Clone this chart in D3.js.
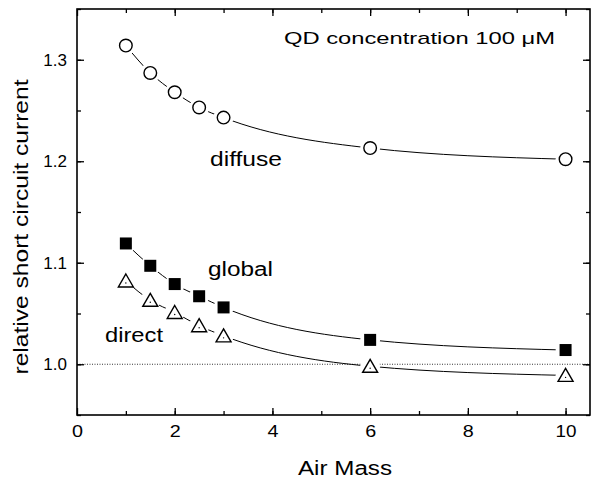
<!DOCTYPE html>
<html>
<head>
<meta charset="utf-8">
<script src="https://cdn.jsdelivr.net/npm/d3@7"></script>
<style>
  body { margin: 0; background: #fff; }
  text { font-family: "Liberation Sans", Arial, sans-serif; fill: #000; }
</style>
</head>
<body>
<div id="chart"></div>
<script>
// Air mass values and relative short circuit current per illumination type
const airMass = [1, 1.5, 2, 2.5, 3, 6, 10];
const diffuse = [1.314, 1.287, 1.268, 1.253, 1.243, 1.213, 1.202];
const global = [1.119, 1.097, 1.079, 1.067, 1.056, 1.024, 1.014];
const direct = [1.082, 1.063, 1.051, 1.038, 1.028, 0.998, 0.989];
const xTicks = [0, 2, 4, 6, 8, 10];
const yTicks = [1.0, 1.1, 1.2, 1.3];

const width = 611, height = 481;
const margin = {top: 9, right: 21, bottom: 66, left: 77};
const innerWidth = width - margin.left - margin.right;
const innerHeight = height - margin.top - margin.bottom;

const svg = d3.select("#chart").append("svg")
    .attr("width", width)
    .attr("height", height);

const g = svg.append("g")
    .attr("transform", `translate(${margin.left},${margin.top})`);

const x = d3.scaleLinear().domain([0, 10.5]).range([0, innerWidth]);
const y = d3.scaleLinear().domain([0.95, 1.35]).range([innerHeight, 0]);

// reference line at 1.0
g.append("line")
    .attr("x1", 0).attr("x2", innerWidth)
    .attr("y1", y(1)).attr("y2", y(1))
    .attr("stroke", "#000")
    .attr("stroke-width", 0.8)
    .attr("stroke-dasharray", "1,1.5");

// axes, ticks pointing inward
const minorX = d3.range(1, 11, 1);
const minorY = d3.range(0.95, 1.351, 0.05);

function drawAxis(axis, cls, transform) {
    g.append("g").attr("class", cls).attr("transform", transform).call(axis);
}
drawAxis(d3.axisBottom(x).tickValues(minorX).tickSize(-4).tickFormat(""), "minor", `translate(0,${innerHeight})`);
drawAxis(d3.axisBottom(x).tickValues(xTicks).tickSize(-7).tickPadding(10).tickFormat(d3.format("d")), "x", `translate(0,${innerHeight})`);
drawAxis(d3.axisTop(x).tickValues(minorX).tickSize(-4).tickFormat(""), "minor", "translate(0,0)");
drawAxis(d3.axisTop(x).tickValues(xTicks).tickSize(-7).tickFormat(""), "minor", "translate(0,0)");
drawAxis(d3.axisLeft(y).tickValues(minorY).tickSize(-4).tickFormat(""), "minor", "translate(0,0)");
drawAxis(d3.axisLeft(y).tickValues(yTicks).tickSize(-7).tickPadding(10).tickFormat(d3.format(".1f")), "y", "translate(0,0)");
drawAxis(d3.axisRight(y).tickValues(minorY).tickSize(-4).tickFormat(""), "minor", `translate(${innerWidth},0)`);
drawAxis(d3.axisRight(y).tickValues(yTicks).tickSize(-7).tickFormat(""), "minor", `translate(${innerWidth},0)`);

g.selectAll(".domain").remove();
g.selectAll(".minor text").remove();
g.selectAll(".tick line").attr("stroke", "#000").attr("stroke-width", 1.3);
g.selectAll(".x .tick text, .y .tick text")
    .attr("font-size", "17px")
    .attr("font-family", "'Liberation Sans', Arial, sans-serif");
g.selectAll(".x .tick text")
    .attr("textLength", d => d >= 10 ? 21 : 11)
    .attr("lengthAdjust", "spacingAndGlyphs");

g.append("rect")
    .attr("width", innerWidth).attr("height", innerHeight)
    .attr("fill", "none").attr("stroke", "#000").attr("stroke-width", 1.6);

// fitted curves through the points
const line = d3.line()
    .x(d => x(d[0]))
    .y(d => y(d[1]))
    .curve(d3.curveMonotoneX);

const series = [
    {name: "diffuse", values: diffuse, shape: "circle"},
    {name: "global", values: global, shape: "square"},
    {name: "direct", values: direct, shape: "triangle"}
];

series.forEach(s => {
    const pts = airMass.map((a, i) => [a, s.values[i]]);
    g.append("path")
        .datum(pts)
        .attr("fill", "none")
        .attr("stroke", "#000")
        .attr("stroke-width", 1)
        .attr("d", line);
});

// markers with white halo so the line stops short of them
series.forEach(s => {
    const pts = airMass.map((a, i) => [a, s.values[i]]);
    const mg = g.append("g").selectAll("g")
        .data(pts).enter().append("g")
        .attr("transform", d => `translate(${x(d[0])},${y(d[1])})`);
    mg.append("circle").attr("r", 10).attr("fill", "#fff");
    if (s.shape === "circle") {
        mg.append("circle").attr("r", 6.3)
            .attr("fill", "#fff").attr("stroke", "#000").attr("stroke-width", 1.4);
    } else if (s.shape === "square") {
        mg.append("rect").attr("x", -6).attr("y", -6)
            .attr("width", 12).attr("height", 12)
            .attr("fill", "#000");
    } else {
        mg.append("path").attr("d", "M0,-7 L7.5,6 L-7.5,6 Z")
            .attr("fill", "#fff").attr("stroke", "#000").attr("stroke-width", 1.4);
        mg.append("circle").attr("r", 0.7).attr("cy", 2).attr("fill", "#000");
    }
});

// annotations (the source font is wide, so stretch with textLength)
const ann = [
    {t: "diffuse", x: 210, y: 166, w: 72},
    {t: "global", x: 208, y: 276, w: 65},
    {t: "direct", x: 105, y: 342, w: 58}
];
svg.selectAll(".ann").data(ann).enter().append("text")
    .attr("class", "ann")
    .attr("x", d => d.x).attr("y", d => d.y)
    .attr("font-size", "20px")
    .attr("textLength", d => d.w)
    .attr("lengthAdjust", "spacingAndGlyphs")
    .text(d => d.t);

const title = svg.append("text")
    .attr("x", 284).attr("y", 44)
    .attr("font-size", "17px")
    .attr("textLength", 271)
    .attr("lengthAdjust", "spacingAndGlyphs")
    .text("QD concentration 100 μM");

svg.append("text")
    .attr("x", 298).attr("y", 475)
    .attr("font-size", "20px")
    .attr("textLength", 94)
    .attr("lengthAdjust", "spacingAndGlyphs")
    .text("Air Mass");

svg.append("text")
    .attr("transform", `translate(28,227) rotate(-90)`)
    .attr("text-anchor", "middle")
    .attr("font-size", "20px")
    .attr("textLength", 295)
    .attr("lengthAdjust", "spacingAndGlyphs")
    .text("relative short circuit current");
</script>
</body>
</html>
